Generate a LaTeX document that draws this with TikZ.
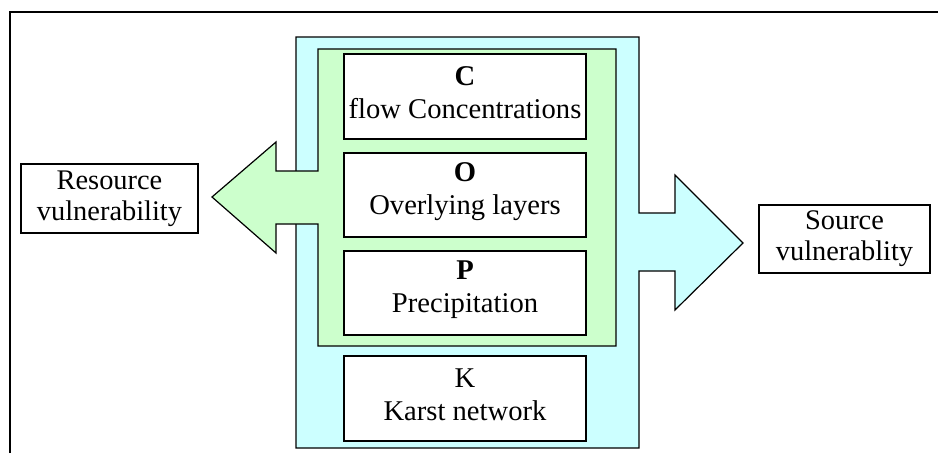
\documentclass[tikz,border=0pt]{standalone}
\usepackage{fontspec}
\setmainfont{Liberation Serif}
\definecolor{paleCyan}{HTML}{CCFFFF}
\definecolor{paleGreen}{HTML}{CCFFCC}
\begin{document}
\begin{tikzpicture}[x=1pt,y=-1pt,
  shapeline/.style={draw=black,line width=1.2pt,line join=miter},
  factorbox/.style={draw=black,line width=1.2pt,fill=white,inner sep=0pt,
    minimum width=242pt},
  factortext/.style={inner sep=0pt,align=center,
    font=\fontsize{28.6}{33}\selectfont},
  vulnbox/.style={draw=black,line width=1.2pt,fill=white,inner sep=0pt,
    align=center,font=\fontsize{28.4}{31}\selectfont}]
\useasboundingbox (0,0) rectangle (938,453);

% outer frame (top and left edges)
\draw[line width=2pt] (10,453) -- (10,12) -- (938,12);

% cyan panel with arrow pointing right
\draw[shapeline,fill=paleCyan]
  (296,37) -- (639,37) -- (639,213) -- (675,213) -- (675,175)
  -- (743,243) -- (675,310) -- (675,271) -- (639,271) -- (639,448)
  -- (296,448) -- cycle;

% green panel with arrow pointing left
\draw[shapeline,fill=paleGreen]
  (318,49) -- (616,49) -- (616,346) -- (318,346) -- (318,224)
  -- (276,224) -- (276,253) -- (212,197) -- (276,142) -- (276,171)
  -- (318,171) -- cycle;

% factor boxes
\node[factorbox,minimum height=85pt] (C) at (465,96.5) {};
\node[factorbox,minimum height=84pt] (O) at (465,195) {};
\node[factorbox,minimum height=84pt] (P) at (465,293) {};
\node[factorbox,minimum height=85pt] (K) at (465,398.5) {};
\node[factortext] (Ct) at ([yshift=3.5pt]C.center) {\textbf{C}\\flow Concentrations};
\node[factortext] (Ot) at ([yshift=3.5pt]O.center) {\textbf{O}\\Overlying layers};
\node[factortext] (Pt) at ([yshift=3.5pt]P.center) {\textbf{P}\\Precipitation};
\node[factortext] (Kt) at ([yshift=3.5pt]K.center) {K\\Karst network};

% vulnerability boxes
\node[vulnbox,minimum width=177pt,minimum height=69pt] (res) at (109.5,198.5) {Resource\\vulnerability};
\node[vulnbox,minimum width=171pt,minimum height=68pt] (src) at (844.5,239) {Source\\vulnerablity};
\end{tikzpicture}
\end{document}
